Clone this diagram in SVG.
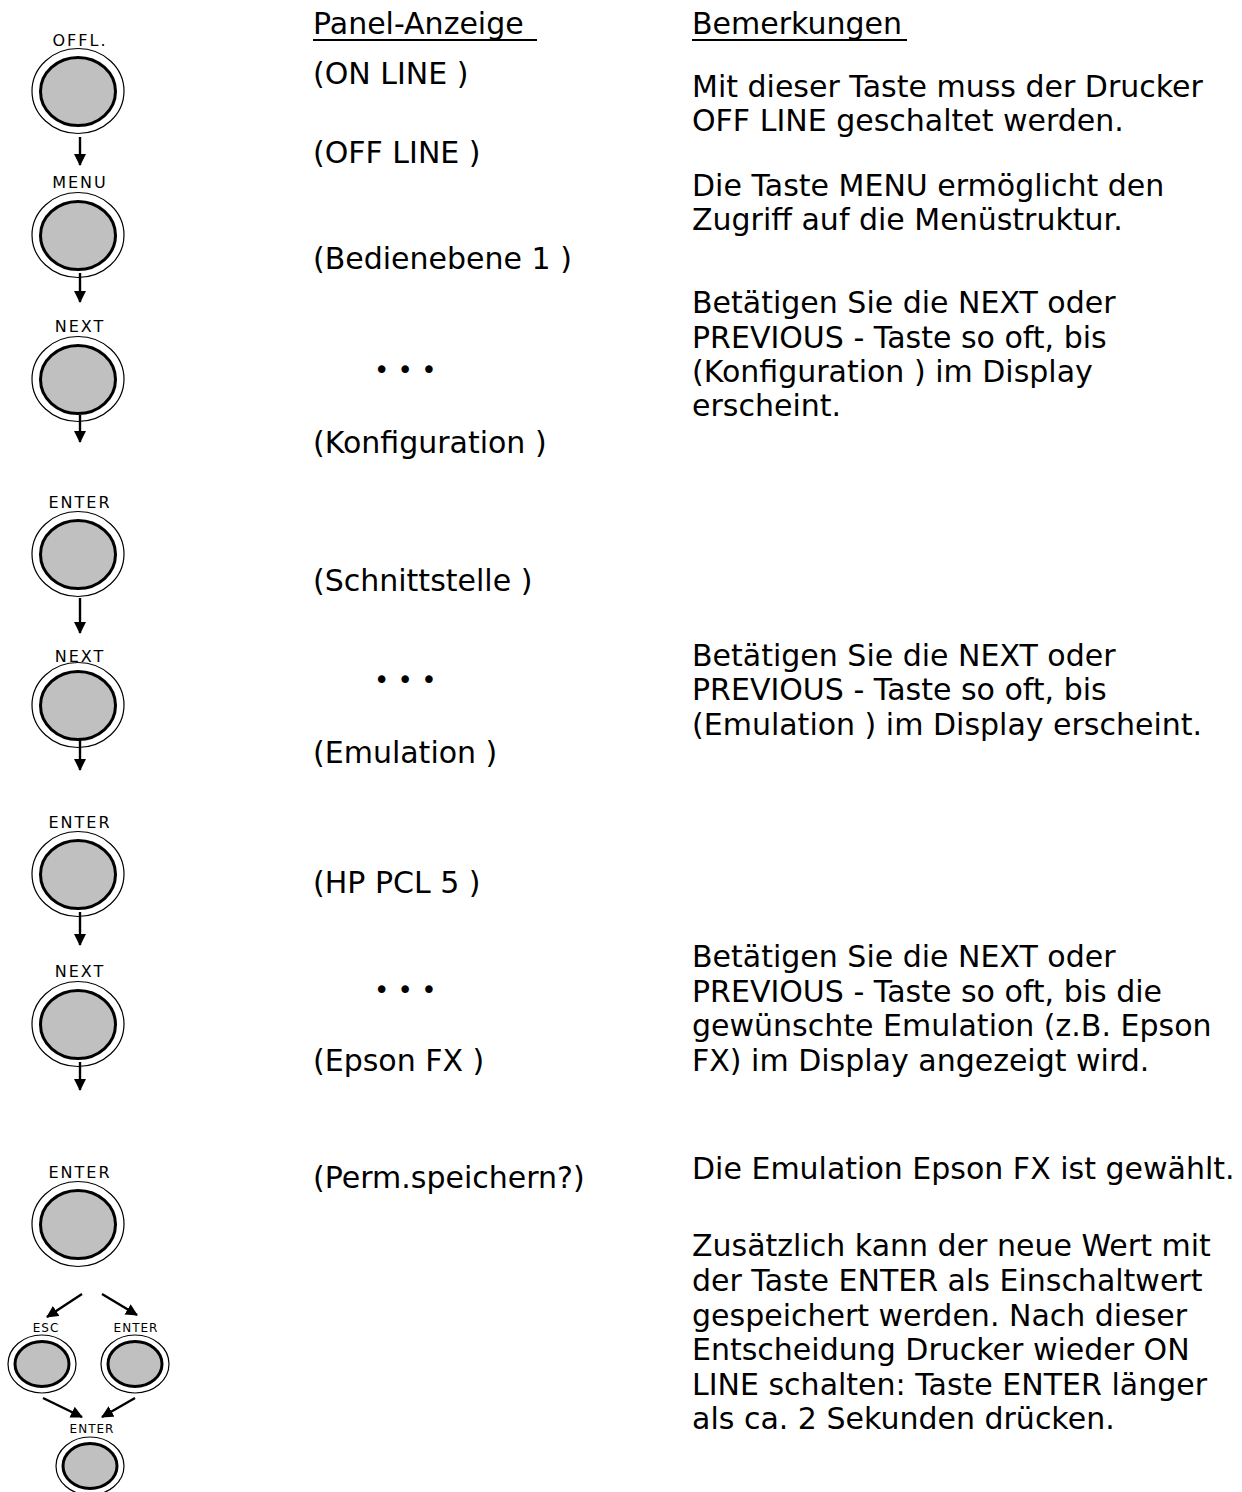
<svg xmlns="http://www.w3.org/2000/svg" width="1242" height="1492" viewBox="0 0 1242 1492">
<style>
.t{font-family:"DejaVu Sans","Liberation Sans",sans-serif;font-size:30px;fill:#000}
.lbl{font-family:"DejaVu Sans","Liberation Sans",sans-serif;font-size:16px;letter-spacing:2px;fill:#000;text-anchor:middle}
.slbl{font-family:"DejaVu Sans","Liberation Sans",sans-serif;font-size:12px;letter-spacing:1px;fill:#000;text-anchor:middle}
.dots{font-family:"DejaVu Sans",sans-serif;font-size:26px;fill:#000}
.outer{fill:#fff;stroke:#000;stroke-width:1.2}
.inner{fill:#c0c0c0;stroke:#000;stroke-width:3}
.conn line{stroke:#000;stroke-width:2.4}
</style>
<defs>
<marker id="ah" markerWidth="12" markerHeight="12" refX="11" refY="6" orient="auto" markerUnits="userSpaceOnUse">
<path d="M0,0 L12,6 L0,12 Z" fill="#000"/>
</marker>
<g id="bigbtn">
<ellipse class="outer" cx="0" cy="0" rx="46" ry="42.5"/>
<ellipse class="inner" cx="0" cy="0.5" rx="37.5" ry="34"/>
</g>
<g id="smallbtn">
<ellipse class="outer" cx="0" cy="0" rx="34" ry="29"/>
<ellipse class="inner" cx="0" cy="0" rx="27" ry="22.5"/>
</g>
</defs>
<rect width="1242" height="1492" fill="#fff"/>

<g id="headers">
<text class="t" x="313" y="34">Panel-Anzeige</text>
<line x1="313" y1="40" x2="537" y2="40" stroke="#000" stroke-width="1.8"/>
<text class="t" x="692" y="34">Bemerkungen</text>
<line x1="692" y1="40" x2="907" y2="40" stroke="#000" stroke-width="1.8"/>
</g>

<g id="btn-offl"><text class="lbl" x="80" y="46">OFFL.</text><use href="#bigbtn" x="78" y="91"/></g>
<g id="btn-menu"><text class="lbl" x="80" y="188">MENU</text><use href="#bigbtn" x="78" y="235"/></g>
<g id="btn-next1"><text class="lbl" x="80" y="332">NEXT</text><use href="#bigbtn" x="78" y="379"/></g>
<g id="btn-enter1"><text class="lbl" x="80" y="508">ENTER</text><use href="#bigbtn" x="78" y="554"/></g>
<g id="btn-next2"><text class="lbl" x="80" y="662">NEXT</text><use href="#bigbtn" x="78" y="705"/></g>
<g id="btn-enter2"><text class="lbl" x="80" y="828">ENTER</text><use href="#bigbtn" x="78" y="874"/></g>
<g id="btn-next3"><text class="lbl" x="80" y="977">NEXT</text><use href="#bigbtn" x="78" y="1024"/></g>
<g id="btn-enter3"><text class="lbl" x="80" y="1178">ENTER</text><use href="#bigbtn" x="78" y="1224"/></g>
<g id="btn-esc"><text class="slbl" x="46" y="1332">ESC</text><use href="#smallbtn" x="42" y="1364"/></g>
<g id="btn-enter4"><text class="slbl" x="136" y="1332">ENTER</text><use href="#smallbtn" x="135" y="1364"/></g>
<g id="btn-enter5"><text class="slbl" x="92" y="1433">ENTER</text><use href="#smallbtn" x="90" y="1466"/></g>

<g id="connectors" class="conn">
<line x1="80" y1="137" x2="80" y2="165" marker-end="url(#ah)"/>
<line x1="80" y1="273" x2="80" y2="302" marker-end="url(#ah)"/>
<line x1="80" y1="415" x2="80" y2="442" marker-end="url(#ah)"/>
<line x1="80" y1="598" x2="80" y2="633" marker-end="url(#ah)"/>
<line x1="80" y1="740" x2="80" y2="770" marker-end="url(#ah)"/>
<line x1="80" y1="912" x2="80" y2="945" marker-end="url(#ah)"/>
<line x1="80" y1="1062" x2="80" y2="1090" marker-end="url(#ah)"/>
<line x1="82" y1="1294" x2="47" y2="1317" marker-end="url(#ah)"/>
<line x1="102" y1="1294" x2="137" y2="1315" marker-end="url(#ah)"/>
<line x1="43" y1="1398" x2="82" y2="1417" marker-end="url(#ah)"/>
<line x1="135" y1="1398" x2="102" y2="1417" marker-end="url(#ah)"/>
</g>

<g id="panel">
<text class="t" x="313" y="84">(ON LINE )</text>
<text class="t" x="313" y="163">(OFF LINE )</text>
<text class="t" x="313" y="269">(Bedienebene 1 )</text>
<text class="dots" x="374" y="379">• • •</text>
<text class="t" x="313" y="453">(Konfiguration )</text>
<text class="t" x="313" y="591">(Schnittstelle )</text>
<text class="dots" x="374" y="689">• • •</text>
<text class="t" x="313" y="763">(Emulation )</text>
<text class="t" x="313" y="893">(HP PCL 5 )</text>
<text class="dots" x="374" y="999">• • •</text>
<text class="t" x="313" y="1071">(Epson FX )</text>
<text class="t" x="313" y="1188">(Perm.speichern?)</text>
</g>

<g id="remarks">
<text class="t" x="692" y="97">Mit dieser Taste muss der Drucker</text>
<text class="t" x="692" y="131">OFF LINE geschaltet werden.</text>
<text class="t" x="692" y="196">Die Taste MENU ermöglicht den</text>
<text class="t" x="692" y="230">Zugriff auf die Menüstruktur.</text>
<text class="t" x="692" y="313">Betätigen Sie die NEXT oder</text>
<text class="t" x="692" y="348">PREVIOUS - Taste so oft, bis</text>
<text class="t" x="692" y="382">(Konfiguration ) im Display</text>
<text class="t" x="692" y="416">erscheint.</text>
<text class="t" x="692" y="666">Betätigen Sie die NEXT oder</text>
<text class="t" x="692" y="700">PREVIOUS - Taste so oft, bis</text>
<text class="t" x="692" y="735">(Emulation ) im Display erscheint.</text>
<text class="t" x="692" y="967">Betätigen Sie die NEXT oder</text>
<text class="t" x="692" y="1002">PREVIOUS - Taste so oft, bis die</text>
<text class="t" x="692" y="1036">gewünschte Emulation (z.B. Epson</text>
<text class="t" x="692" y="1071">FX) im Display angezeigt wird.</text>
<text class="t" x="692" y="1179">Die Emulation Epson FX ist gewählt.</text>
<text class="t" x="692" y="1256">Zusätzlich kann der neue Wert mit</text>
<text class="t" x="692" y="1291">der Taste ENTER als Einschaltwert</text>
<text class="t" x="692" y="1326">gespeichert werden. Nach dieser</text>
<text class="t" x="692" y="1360">Entscheidung Drucker wieder ON</text>
<text class="t" x="692" y="1395">LINE schalten: Taste ENTER länger</text>
<text class="t" x="692" y="1429">als ca. 2 Sekunden drücken.</text>
</g>
</svg>
